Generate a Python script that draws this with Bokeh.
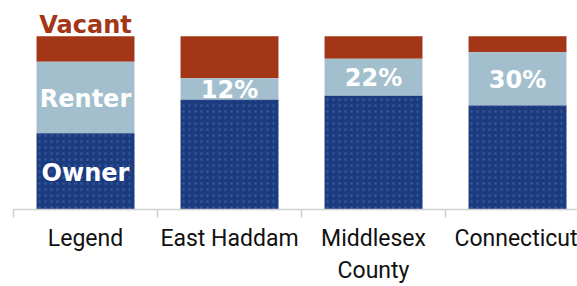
from bokeh.plotting import figure
from bokeh.models import ColumnDataSource, Range1d, FixedTicker
from bokeh.core.properties import value
from bokeh.embed import file_html
from bokeh.resources import INLINE

categories = ["Legend", "East Haddam", "Middlesex\nCounty", "Connecticut"]
owner = [44.0, 63.4, 65.6, 60.0]
renter = [41.2, 12.4, 21.4, 30.7]
vacant = [14.8, 24.2, 13.0, 9.3]
renter_labels = ["Renter", "12%", "22%", "30%"]

OWNER_C = "#1C3A7E"
RENTER_C = "#A3BFCE"
VACANT_C = "#A23616"

x = [i + 0.5 for i in range(len(categories))]
own_top = owner
ren_top = [o + r for o, r in zip(owner, renter)]
vac_top = [o + r + v for o, r, v in zip(owner, renter, vacant)]

src = ColumnDataSource(dict(
    x=x, own_top=own_top, ren_top=ren_top, vac_top=vac_top,
    ren_mid=[o + r / 2 for o, r in zip(owner, renter)],
    rlab=renter_labels,
))

p = figure(width=577, height=286, output_backend="svg", toolbar_location=None,
           x_range=Range1d(0, 564 / 144), y_range=Range1d(0, 120.6),
           y_axis_location=None, min_border_left=13, min_border_right=0,
           min_border_top=0, min_border_bottom=75)
p.outline_line_color = None
p.grid.visible = False

W = 0.68
p.vbar(x="x", width=W, bottom="ren_top", top="vac_top", source=src,
       fill_color=VACANT_C, line_color=None)
p.vbar(x="x", width=W, bottom="own_top", top="ren_top", source=src,
       fill_color=RENTER_C, line_color=None)
p.text(x="x", y="ren_mid", text="rlab", source=src, text_color="white",
       text_font=value("DejaVu Sans"), text_font_style="bold",
       text_font_size="24px", text_align="center", text_baseline="middle",
       y_offset=1)
p.vbar(x="x", width=W, bottom=0, top="own_top", source=src,
       fill_color=OWNER_C, line_color=None,
       hatch_pattern="dot", hatch_color="#4163ad", hatch_alpha=0.55,
       hatch_scale=6, hatch_weight=1.5)

leg = ColumnDataSource(dict(x=[x[0]], y=[owner[0] / 2], t=["Owner"]))
p.text(x="x", y="y", text="t", source=leg, text_color="white",
       text_font=value("DejaVu Sans"), text_font_style="bold",
       text_font_size="24px", text_align="center", text_baseline="middle",
       y_offset=2)
vsrc = ColumnDataSource(dict(x=[x[0]], y=[vac_top[0]], t=["Vacant"]))
p.text(x="x", y="y", text="t", source=vsrc, text_color=VACANT_C,
       text_font=value("DejaVu Sans"), text_font_style="bold",
       text_font_size="24px", text_align="center", text_baseline="middle",
       y_offset=-11)

ax = p.xaxis[0]
ax.ticker = FixedTicker(ticks=x, minor_ticks=list(range(len(categories) + 1)))
ax.major_label_overrides = {xx: c for xx, c in zip(x, categories)}
ax.major_tick_line_color = None
ax.major_tick_out = 8
ax.major_tick_in = 0
ax.minor_tick_out = 8
ax.minor_tick_in = 0
ax.minor_tick_line_color = "#d0d0d0"
ax.minor_tick_line_width = 1.5
ax.axis_line_color = "#d0d0d0"
ax.axis_line_width = 1.5
ax.major_label_text_font = "Roboto"
ax.major_label_text_font_size = "23px"
ax.major_label_text_color = "#111111"
ax.major_label_standoff = 7

open("out.html", "w").write(file_html(p, INLINE))
